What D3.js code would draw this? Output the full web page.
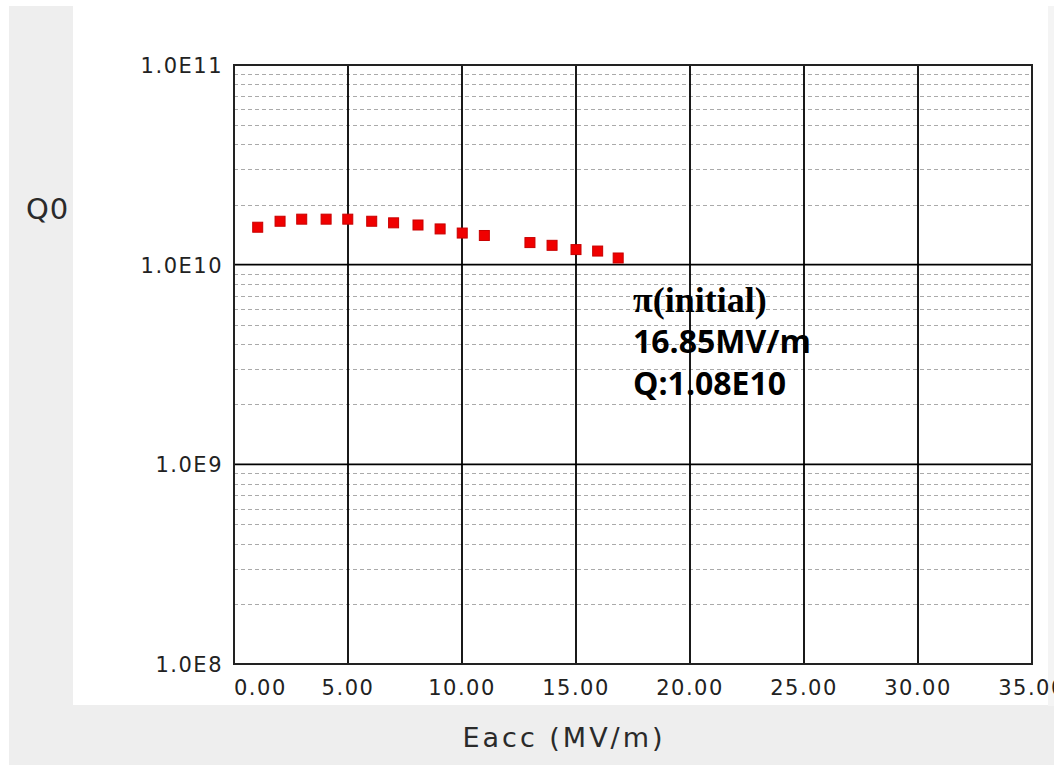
<!DOCTYPE html>
<html>
<head>
<meta charset="utf-8">
<script src="https://cdn.jsdelivr.net/npm/d3@7"></script>
<style>
  body { margin: 0; background: #fff; }
  svg { display: block; }
</style>
</head>
<body>
<div id="chart"></div>
<script>
const width = 1054;
const height = 765;

// measured data: Eacc (MV/m) and Q0
const eacc = [1.04, 2.02, 2.97, 4.04, 4.99, 6.04, 7.0, 8.07, 9.04, 10.01, 10.98, 12.98, 13.95, 15.0, 15.95, 16.85];
const q0 = [1.54e10, 1.65e10, 1.69e10, 1.69e10, 1.69e10, 1.65e10, 1.62e10, 1.58e10, 1.51e10, 1.44e10, 1.40e10, 1.29e10, 1.25e10, 1.19e10, 1.17e10, 1.08e10];
const xTicks = [0, 5, 10, 15, 20, 25, 30, 35];
const yTicks = [1e8, 1e9, 1e10, 1e11];
const noteLines = ["π(initial)", "16.85MV/m", "Q:1.08E10"];

const plot = { left: 234, right: 1032, top: 65, bottom: 664 };

const x = d3.scaleLinear().domain([0, 35]).range([plot.left, plot.right]);
const y = d3.scaleLog().domain([1e8, 1e11]).range([plot.bottom, plot.top]);

const svg = d3.select("#chart").append("svg")
  .attr("width", width)
  .attr("height", height);

// grey panels (axis title areas)
svg.append("rect").attr("x", 9).attr("y", 6).attr("width", 64).attr("height", 700).attr("fill", "#eeeeee");
svg.append("rect").attr("x", 9).attr("y", 705).attr("width", width - 9).attr("height", 60).attr("fill", "#eeeeee");
svg.append("rect").attr("x", 1048).attr("y", 6).attr("width", 6).attr("height", 700).attr("fill", "#f4f4f4");

const g = svg.append("g");

g.append("rect")
  .attr("x", plot.left).attr("y", plot.top)
  .attr("width", plot.right - plot.left).attr("height", plot.bottom - plot.top)
  .attr("fill", "#fff");

// minor log grid
const minor = y.ticks().filter(d => !yTicks.includes(d));
g.selectAll(".minor")
  .data(minor)
  .join("line")
  .attr("class", "minor")
  .attr("x1", plot.left).attr("x2", plot.right)
  .attr("y1", d => Math.round(y(d)) + 0.5).attr("y2", d => Math.round(y(d)) + 0.5)
  .attr("stroke", "#aaaaaa")
  .attr("stroke-width", 1)
  .attr("stroke-dasharray", "4,3");

// major grid
g.selectAll(".vgrid")
  .data(xTicks)
  .join("line")
  .attr("class", "vgrid")
  .attr("x1", d => x(d)).attr("x2", d => x(d))
  .attr("y1", plot.top).attr("y2", plot.bottom)
  .attr("stroke", "#000")
  .attr("stroke-width", 1.8);

g.selectAll(".hgrid")
  .data(yTicks)
  .join("line")
  .attr("class", "hgrid")
  .attr("x1", plot.left).attr("x2", plot.right)
  .attr("y1", d => y(d)).attr("y2", d => y(d))
  .attr("stroke", "#000")
  .attr("stroke-width", 1.8);

g.append("rect")
  .attr("x", plot.left).attr("y", plot.top)
  .attr("width", plot.right - plot.left).attr("height", plot.bottom - plot.top)
  .attr("fill", "none")
  .attr("stroke", "#222")
  .attr("stroke-width", 2);

// tick labels
const yFmt = d => "1.0E" + Math.round(Math.log10(d));
svg.selectAll(".ylab")
  .data(yTicks)
  .join("text")
  .attr("class", "ylab")
  .attr("x", 223)
  .attr("y", d => y(d) + 8)
  .attr("text-anchor", "end")
  .style("font", "21px 'DejaVu Sans', sans-serif")
  .style("letter-spacing", "1.5px")
  .attr("fill", "#222")
  .text(yFmt);

svg.selectAll(".xlab")
  .data(xTicks)
  .join("text")
  .attr("class", "xlab")
  .attr("x", d => x(d))
  .attr("y", 695)
  .attr("text-anchor", d => d === 0 ? "start" : "middle")
  .style("font", "21px 'DejaVu Sans', sans-serif")
  .style("letter-spacing", "1.5px")
  .attr("fill", "#222")
  .text(d => d3.format(".2f")(d));

// axis titles
svg.append("text")
  .attr("x", 26)
  .attr("y", 219)
  .style("font", "29px 'DejaVu Sans', sans-serif")
  .style("letter-spacing", "1px")
  .attr("fill", "#2a2a2a")
  .text("Q0");

svg.append("text")
  .attr("x", 564)
  .attr("y", 747)
  .attr("text-anchor", "middle")
  .style("font", "27px 'DejaVu Sans', sans-serif")
  .style("letter-spacing", "3px")
  .attr("fill", "#2a2a2a")
  .text("Eacc (MV/m)");

// data points
const pts = eacc.map((e, i) => ({ e, q: q0[i] }));
g.selectAll(".pt")
  .data(pts)
  .join("rect")
  .attr("class", "pt")
  .attr("x", d => x(d.e) - 5)
  .attr("y", d => y(d.q) - 5)
  .attr("width", 10)
  .attr("height", 10)
  .attr("fill", "#f00000")
  .attr("stroke", "#c80000")
  .attr("stroke-width", 1);

// annotation
const note = svg.append("g").attr("transform", "translate(633,0)");
note.append("text")
  .attr("y", 312)
  .style("font", "bold 36px 'Liberation Serif', serif")
  .attr("fill", "#000")
  .text(noteLines[0]);
note.selectAll(".nl")
  .data(noteLines.slice(1))
  .join("text")
  .attr("class", "nl")
  .attr("y", (d, i) => 353 + i * 42)
  .style("font", "bold 32px 'Open Sans', sans-serif")
  .attr("fill", "#000")
  .text(d => d);
</script>
</body>
</html>
